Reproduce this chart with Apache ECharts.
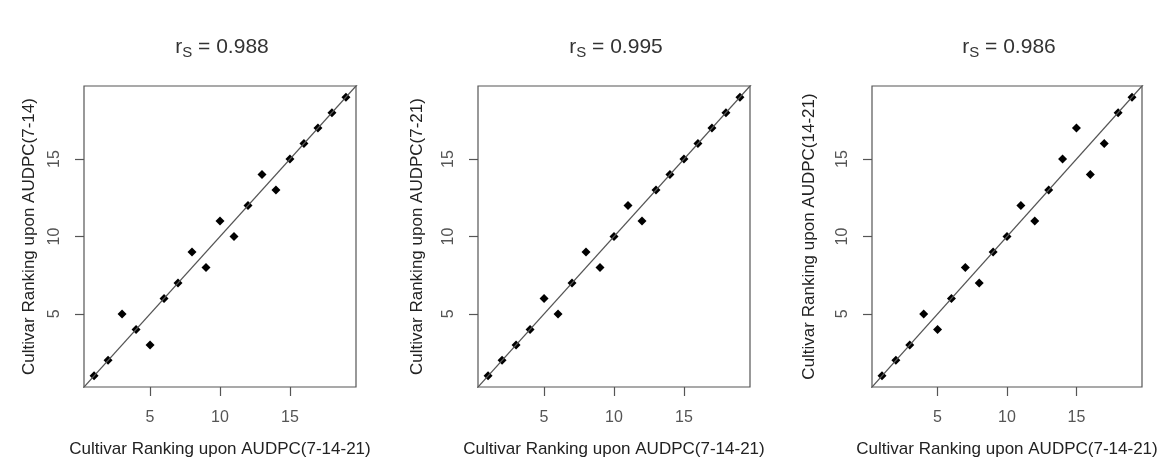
<!DOCTYPE html>
<html>
<head>
<meta charset="utf-8">
<script src="https://cdn.jsdelivr.net/npm/echarts@6/dist/echarts.min.js"></script>
<style>
html,body{margin:0;padding:0;background:#fff;}
#chart{width:1162px;height:457px;}
</style>
</head>
<body>
<div id="chart"></div>
<script>
// Data
const xRank = [1,2,3,4,5,6,7,8,9,10,11,12,13,14,15,16,17,18,19];
const yRank_7_14 = [1,2,5,4,3,6,7,9,8,11,10,12,14,13,15,16,17,18,19];
const yRank_7_21 = [1,2,3,4,6,5,7,9,8,10,12,11,13,14,15,16,17,18,19];
const yRank_14_21 = [1,2,3,5,4,6,8,7,9,10,12,11,13,15,17,14,16,18,19];
const rsValues = ['0.988','0.995','0.986'];
const yTitles = ['Cultivar Ranking upon AUDPC(7-14)','Cultivar Ranking upon AUDPC(7-21)','Cultivar Ranking upon AUDPC(14-21)'];
const xTitle = 'Cultivar Ranking upon AUDPC(7-14-21)';
const tickValues = [5,10,15];
const axisRange = [0.28, 19.72];

const panelY = [yRank_7_14, yRank_7_21, yRank_14_21];
const grids = [
  {left:84, top:86, width:272, height:301},
  {left:478, top:86, width:272, height:301},
  {left:872, top:86, width:270, height:301}
];
const yNameGaps = [46, 52, 54];
const FONT = '"Liberation Sans", Arial, sans-serif';

const option = {
  backgroundColor:'#fff',
  animation:false,
  title: grids.map((g,i)=>({
    text: 'r{sub|S} = ' + rsValues[i],
    left: g.left + g.width/2 - 3,
    textAlign:'center',
    top: 30,
    textStyle:{
      fontFamily: FONT, fontSize:21, fontWeight:'normal', color:'#333',
      rich:{ sub:{fontFamily:FONT, fontSize:15, color:'#333', padding:[10,0,0,0]} }
    }
  })),
  grid: grids.map(g=>({left:g.left, top:g.top, width:g.width, height:g.height,
    outerBoundsMode:'none', containLabel:false,
    show:true, borderColor:'#555', borderWidth:1.2, backgroundColor:'transparent'})),
  xAxis: grids.map((g,i)=>({
    type:'value', gridIndex:i, min:axisRange[0], max:axisRange[1],
    name: xTitle, nameLocation:'middle', nameGap:54,
    nameTextStyle:{fontFamily:FONT, fontSize:17, color:'#222'},
    axisLine:{show:false},
    splitLine:{show:false},
    axisTick:{show:true, length:9, lineStyle:{color:'#555', width:1.2}, customValues:tickValues},
    axisLabel:{show:true, fontFamily:FONT, fontSize:16, color:'#555', margin:23, customValues:tickValues}
  })),
  yAxis: grids.map((g,i)=>({
    type:'value', gridIndex:i, min:axisRange[0], max:axisRange[1],
    name: yTitles[i], nameLocation:'middle', nameGap:yNameGaps[i],
    nameTextStyle:{fontFamily:FONT, fontSize:17, color:'#222'},
    axisLine:{show:false},
    splitLine:{show:false},
    axisTick:{show:true, length:9, lineStyle:{color:'#555', width:1.2}, customValues:tickValues},
    axisLabel:{show:true, fontFamily:FONT, fontSize:16, color:'#555', margin:21, rotate:90, customValues:tickValues}
  })),
  series: []
};

panelY.forEach((ys,i)=>{
  option.series.push({
    type:'line', xAxisIndex:i, yAxisIndex:i,
    data:[[0,0],[20,20]], symbol:'none', clip:true, silent:true,
    lineStyle:{color:'#555', width:1.3}
  });
  option.series.push({
    type:'scatter', xAxisIndex:i, yAxisIndex:i,
    data: xRank.map((x,k)=>[x, ys[k]]),
    symbol:'diamond', symbolSize:9,
    itemStyle:{color:'#000', opacity:1}
  });
});

const chart = echarts.init(document.getElementById('chart'), null, {renderer:'canvas'});
chart.setOption(option);
</script>
</body>
</html>
